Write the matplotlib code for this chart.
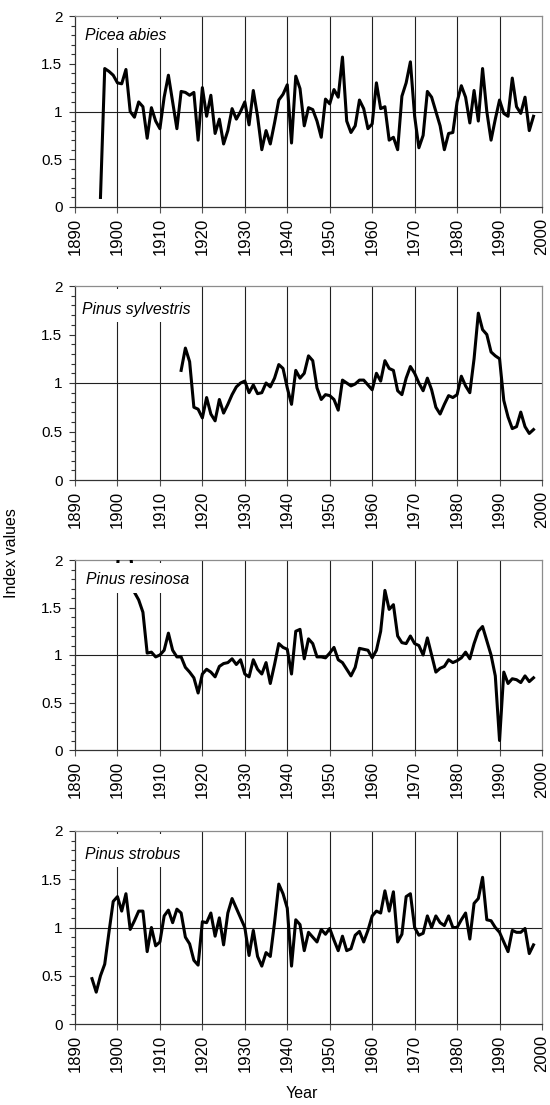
import numpy as np
import matplotlib
matplotlib.use("Agg")
import matplotlib.pyplot as plt
from matplotlib.patches import Rectangle

plt.rcParams['font.family'] = ['Liberation Sans', 'DejaVu Sans']

# ---------------- data ----------------
species = ["Picea abies", "Pinus sylvestris", "Pinus resinosa", "Pinus strobus"]

picea_start = 1896
picea_values = [
    0.10, 1.45, 1.42, 1.38,                                        # 1896-1899
    1.30, 1.29, 1.44, 1.00, 0.94, 1.10, 1.05, 0.72, 1.04, 0.90,    # 1900s
    0.82, 1.15, 1.38, 1.10, 0.82, 1.21, 1.20, 1.17, 1.20, 0.70,    # 1910s
    1.25, 0.95, 1.17, 0.77, 0.92, 0.66, 0.80, 1.03, 0.92, 1.00,    # 1920s
    1.10, 0.86, 1.22, 0.95, 0.60, 0.80, 0.66, 0.88, 1.12, 1.18,    # 1930s
    1.28, 0.67, 1.37, 1.24, 0.85, 1.04, 1.02, 0.90, 0.73, 1.13,    # 1940s
    1.08, 1.23, 1.15, 1.57, 0.90, 0.78, 0.85, 1.12, 1.03, 0.82,    # 1950s
    0.87, 1.30, 1.03, 1.05, 0.70, 0.73, 0.60, 1.16, 1.30, 1.52,    # 1960s
    0.95, 0.62, 0.75, 1.21, 1.15, 1.00, 0.85, 0.60, 0.77, 0.78,    # 1970s
    1.10, 1.27, 1.15, 0.88, 1.22, 0.90, 1.45, 1.00, 0.70, 0.92,    # 1980s
    1.12, 0.98, 0.95, 1.35, 1.05, 0.98, 1.15, 0.80, 0.95,          # 1990-1998
]

sylvestris_start = 1915
sylvestris_values = [
    1.13, 1.36, 1.22, 0.75, 0.73,                                  # 1915-1919
    0.64, 0.85, 0.68, 0.61, 0.83, 0.69, 0.78, 0.88, 0.96, 1.00,    # 1920s
    1.02, 0.90, 0.98, 0.89, 0.90, 1.00, 0.96, 1.05, 1.19, 1.15,    # 1930s
    0.95, 0.78, 1.13, 1.05, 1.10, 1.28, 1.23, 0.95, 0.83, 0.88,    # 1940s
    0.87, 0.83, 0.72, 1.03, 1.00, 0.97, 0.99, 1.03, 1.03, 0.98,    # 1950s
    0.93, 1.10, 1.02, 1.23, 1.15, 1.13, 0.92, 0.88, 1.05, 1.17,    # 1960s
    1.10, 1.00, 0.92, 1.05, 0.93, 0.75, 0.68, 0.78, 0.87, 0.85,    # 1970s
    0.88, 1.07, 0.97, 0.90, 1.25, 1.72, 1.55, 1.50, 1.32, 1.28,    # 1980s
    1.25, 0.82, 0.65, 0.53, 0.55, 0.70, 0.55, 0.48, 0.52,          # 1990-1998
]

resinosa_start = 1900
resinosa_values = [
    1.90, 2.60, 2.50, 2.10, 1.66, 1.58, 1.45, 1.02, 1.03, 0.98,    # 1900s
    1.00, 1.05, 1.23, 1.05, 0.98, 0.98, 0.87, 0.82, 0.76, 0.60,    # 1910s
    0.80, 0.85, 0.82, 0.77, 0.88, 0.91, 0.92, 0.96, 0.90, 0.95,    # 1920s
    0.80, 0.77, 0.95, 0.85, 0.80, 0.92, 0.70, 0.90, 1.12, 1.08,    # 1930s
    1.06, 0.80, 1.25, 1.27, 0.96, 1.17, 1.12, 0.98, 0.98, 0.97,    # 1940s
    1.02, 1.08, 0.95, 0.92, 0.85, 0.78, 0.87, 1.07, 1.06, 1.05,    # 1950s
    0.97, 1.05, 1.25, 1.68, 1.48, 1.53, 1.20, 1.13, 1.12, 1.20,    # 1960s
    1.12, 1.10, 1.00, 1.18, 1.00, 0.82, 0.86, 0.88, 0.95, 0.92,    # 1970s
    0.94, 0.97, 1.03, 0.96, 1.12, 1.25, 1.30, 1.15, 1.00, 0.78,    # 1980s
    0.10, 0.82, 0.70, 0.75, 0.74, 0.71, 0.78, 0.72, 0.76,          # 1990-1998
]

strobus_start = 1894
strobus_values = [
    0.47, 0.33, 0.50, 0.62, 0.95, 1.27,                            # 1894-1899
    1.32, 1.17, 1.35, 0.98, 1.07, 1.17, 1.17, 0.75, 1.00, 0.81,    # 1900s
    0.85, 1.12, 1.18, 1.05, 1.19, 1.15, 0.90, 0.83, 0.66, 0.61,    # 1910s
    1.06, 1.05, 1.15, 0.91, 1.10, 0.82, 1.15, 1.30, 1.20, 1.10,    # 1920s
    1.00, 0.71, 0.97, 0.70, 0.60, 0.74, 0.70, 1.05, 1.45, 1.35,    # 1930s
    1.20, 0.60, 1.08, 1.03, 0.76, 0.95, 0.90, 0.85, 0.98, 0.93,    # 1940s
    0.99, 0.87, 0.76, 0.91, 0.76, 0.78, 0.92, 0.96, 0.85, 0.97,    # 1950s
    1.12, 1.17, 1.15, 1.38, 1.17, 1.37, 0.85, 0.93, 1.32, 1.35,    # 1960s
    1.00, 0.92, 0.94, 1.12, 1.00, 1.12, 1.05, 1.02, 1.12, 1.00,    # 1970s
    1.00, 1.08, 1.15, 0.88, 1.25, 1.30, 1.52, 1.08, 1.07, 1.00,    # 1980s
    0.95, 0.85, 0.75, 0.97, 0.95, 0.95, 0.99, 0.73, 0.82,          # 1990-1998
]

starts = [picea_start, sylvestris_start, resinosa_start, strobus_start]
series = [picea_values, sylvestris_values, resinosa_values, strobus_values]

year_ticks = [1890, 1900, 1910, 1920, 1930, 1940, 1950, 1960, 1970, 1980, 1990, 2000]
y_ticks = [0, 0.5, 1, 1.5, 2]
y_tick_labels = ["0", "0.5", "1", "1.5", "2"]

# ---------------- layout ----------------
W, H = 550, 1105
fig = plt.figure(figsize=(W / 100, H / 100), dpi=100)

panel_tb = [(16, 207), (286, 480), (560, 750), (831, 1024)]
left_px, right_px = 75, 542
label_pos = [(0.022, 0.900), (0.014, 0.880), (0.024, 0.895), (0.021, 0.880)]
box_geom = [(0.832, 0.225), (0.812, 0.262), (0.826, 0.260), (0.812, 0.245)]

for i, (name, start, vals) in enumerate(zip(species, starts, series)):
    top, bot = panel_tb[i]
    ax = fig.add_axes([left_px / W, 1 - bot / H, (right_px - left_px) / W, (bot - top) / H])
    years = np.arange(start, start + len(vals))
    ax.plot(years, vals, color="black", lw=2.2, zorder=3)

    ax.set_xlim(1890, 2000)
    ax.set_ylim(0, 2)

    for yr in year_ticks[1:-1]:
        ax.axvline(yr, color="#202020", lw=0.8, zorder=1)
    ax.axhline(1, color="#202020", lw=0.8, zorder=1)

    # white label box covering grid and data
    by, bx = box_geom[i]
    ax.add_patch(Rectangle((0.004, by), bx - 0.004, 0.985 - by, transform=ax.transAxes,
                           facecolor="white", edgecolor="none", zorder=4))
    lx, ly = label_pos[i]
    ax.text(lx, ly, name, transform=ax.transAxes, style="italic", fontsize=11.3,
            va="center", ha="left", zorder=5)

    ax.set_xticks(year_ticks)
    ax.set_xticklabels([str(y) for y in year_ticks], rotation=90, fontsize=12)
    ax.set_yticks(y_ticks)
    ax.set_yticklabels(y_tick_labels, fontsize=11)
    ax.set_yticks(np.arange(0, 2.01, 0.1), minor=True)
    ax.tick_params(axis="y", which="major", direction="out", length=4, width=0.8,
                   color="#333333", pad=5)
    ax.tick_params(axis="y", which="minor", direction="out", length=3, width=0.8,
                   color="#333333")
    ax.tick_params(axis="x", which="major", direction="out", length=4, width=0.8,
                   color="#555555", pad=4)

    for s in ["left", "bottom"]:
        ax.spines[s].set_color("#333333")
        ax.spines[s].set_linewidth(0.9)
    for s in ["top", "right"]:
        ax.spines[s].set_color("#8c8c8c")
        ax.spines[s].set_linewidth(0.9)
    ax.set_facecolor("white")

fig.text(12 / W, 1 - 553 / H, "Index values", rotation=90, ha="center", va="center", fontsize=11.5)
fig.text(302 / W, 1 - 1093 / H, "Year", ha="center", va="center", fontsize=11.5)

fig.savefig("out.png", dpi=100, facecolor="white")
